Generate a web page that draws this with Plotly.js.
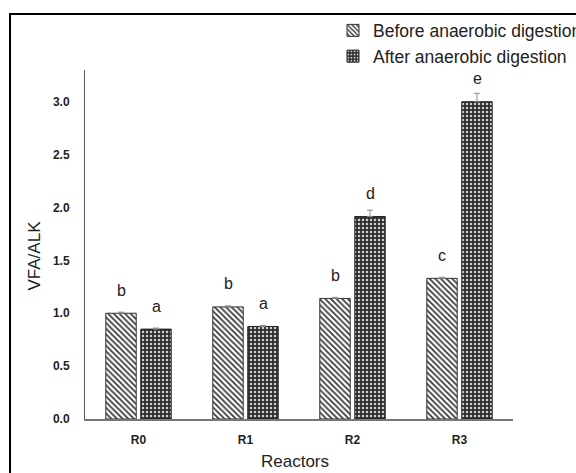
<!DOCTYPE html>
<html>
<head>
<meta charset="utf-8">
<script src="https://cdn.plot.ly/plotly-3.0.1.min.js"></script>
<style>html,body{margin:0;padding:0;background:#fff;}#chart{width:576px;height:473px;}</style>
</head>
<body>
<div id="chart"></div>
<script>
// ---- data ----
const categories = ['R0', 'R1', 'R2', 'R3'];
const beforeVals = [1.00, 1.06, 1.14, 1.33];
const afterVals = [0.85, 0.875, 1.915, 3.00];
const beforeErr = [0.01, 0.01, 0.01, 0.01];
const afterErr = [0.01, 0.01, 0.06, 0.08];
const beforeLetters = ['b', 'b', 'b', 'c'];
const afterLetters = ['a', 'a', 'd', 'e'];
const yTickVals = [0, 0.5, 1.0, 1.5, 2.0, 2.5, 3.0];
const seriesNames = ['Before anaerobic digestion', 'After anaerobic digestion'];
const xTitle = 'Reactors';
const yTitle = 'VFA/ALK';

const FONT = 'Liberation Sans, Arial, sans-serif';
const W = 576, H = 473;
const M = {l: 85, r: 63, t: 70, b: 54};
const pw = W - M.l - M.r, ph = H - M.t - M.b;
const px2x = p => (p - M.l) / pw;
const py2y = p => (H - M.b - p) / ph;

const zeros = categories.map(() => 0);

const traceBefore = {
  type: 'bar', name: seriesNames[0], x: categories, y: beforeVals,
  marker: {
    color: '#ffffff',
    line: {color: '#333', width: 1},
    pattern: {shape: '\\', fgcolor: '#3a3a3a', bgcolor: '#ffffff', size: 4, solidity: 0.45}
  },
  error_y: {type: 'data', array: beforeErr, arrayminus: zeros, symmetric: false, color: '#888', thickness: 1, width: 3}
};
const traceAfter = {
  type: 'bar', name: seriesNames[1], x: categories, y: afterVals,
  marker: {
    color: '#333333',
    line: {color: '#222', width: 1},
    pattern: {shape: '.', fgcolor: '#d0d0d0', bgcolor: '#2e2e2e', size: 4, solidity: 0.3}
  },
  error_y: {type: 'data', array: afterErr, arrayminus: zeros, symmetric: false, color: '#888', thickness: 1, width: 3}
};

const annotations = [];
categories.forEach((c, i) => {
  annotations.push({x: c, y: beforeVals[i], xref: 'x', yref: 'y', text: beforeLetters[i], showarrow: false,
    xshift: -17.5, yshift: 23, xanchor: 'center', yanchor: 'middle', font: {family: FONT, size: 16, color: '#222'}});
  annotations.push({x: c, y: afterVals[i], xref: 'x', yref: 'y', text: afterLetters[i], showarrow: false,
    xshift: 17.5, yshift: 23, xanchor: 'center', yanchor: 'middle', font: {family: FONT, size: 16, color: '#222'}});
});
annotations.push({xref: 'paper', yref: 'paper', x: px2x(33.5), y: py2y(256), text: yTitle, textangle: -90,
  showarrow: false, xanchor: 'center', yanchor: 'middle', font: {family: FONT, size: 17, color: '#222'}});
annotations.push({xref: 'paper', yref: 'paper', x: px2x(295), y: py2y(461.5), text: xTitle,
  showarrow: false, xanchor: 'center', yanchor: 'middle', font: {family: FONT, size: 17, color: '#222'}});

const layout = {
  width: W, height: H,
  margin: {l: M.l, r: M.r, t: M.t, b: M.b, pad: 0, autoexpand: false},
  paper_bgcolor: '#ffffff', plot_bgcolor: '#ffffff',
  font: {family: FONT, color: '#222'},
  barmode: 'group', bargap: 0.346, bargroupgap: 0.13,
  showlegend: true,
  legend: {x: px2x(333), y: py2y(12.5), xanchor: 'left', yanchor: 'top', bgcolor: 'rgba(0,0,0,0)',
    font: {family: FONT, size: 17.5, color: '#222'}, traceorder: 'normal', tracegroupgap: 0},
  xaxis: {type: 'category', range: [-0.5, 3.5], showline: true, linecolor: '#777', linewidth: 1.5,
    ticks: '', showgrid: false, zeroline: false, ticklabelstandoff: 9,
    tickfont: {family: FONT, size: 12, color: '#222', weight: 'bold'}},
  yaxis: {range: [0, 3.3], tickvals: yTickVals, tickformat: '.1f', showline: true, linecolor: '#555', linewidth: 1,
    ticks: '', showgrid: false, zeroline: false, ticklabelstandoff: 12,
    tickfont: {family: FONT, size: 12, color: '#222', weight: 'bold'}},
  annotations: annotations,
  shapes: [{type: 'rect', xref: 'paper', yref: 'paper', x0: px2x(10), y0: py2y(14), x1: px2x(590), y1: py2y(490),
    line: {color: '#000', width: 2}, fillcolor: 'rgba(0,0,0,0)', layer: 'above'}]
};

Plotly.newPlot('chart', [traceBefore, traceAfter], layout, {displayModeBar: false, staticPlot: true});
</script>
</body>
</html>
